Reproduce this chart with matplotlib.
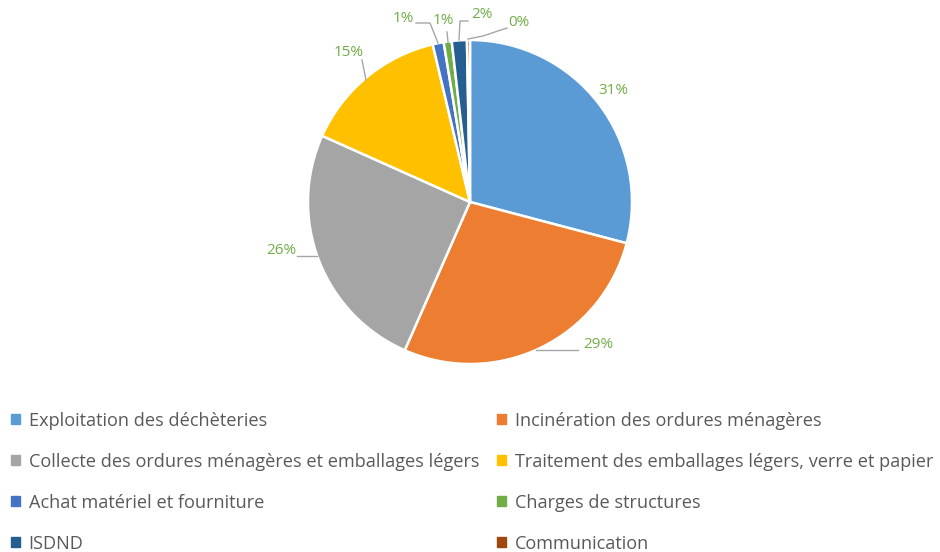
import matplotlib.pyplot as plt
from matplotlib.patches import Patch

plt.rcParams['font.family'] = ['Open Sans', 'DejaVu Sans']

# données
categories = ['Exploitation des déchèteries',
              'Incinération des ordures ménagères',
              'Collecte des ordures ménagères et emballages légers',
              'Traitement des emballages légers, verre et papier',
              'Achat matériel et fourniture',
              'Charges de structures',
              'ISDND',
              'Communication']
valeurs = [29.1, 27.5, 25.1, 14.6, 1.1, 0.8, 1.5, 0.3]
etiquettes = ['31%', '29%', '26%', '15%', '1%', '1%', '2%', '0%']
couleurs = ['#5B9BD5', '#ED7D31', '#A5A5A5', '#FFC000',
            '#4472C4', '#70AD47', '#255E91', '#9E480E']

fig = plt.figure(figsize=(9.4, 5.52), dpi=100)
ax = fig.add_axes([0, 0, 1, 1])

cx, cy, r = 470, 350, 162
wedges, _ = ax.pie(valeurs, colors=couleurs, startangle=90, counterclock=False,
                   center=(cx, cy), radius=r, frame=True,
                   wedgeprops=dict(edgecolor='white', linewidth=1.8))
ax.set_xlim(0, 940)
ax.set_ylim(0, 552)
ax.set_aspect('equal')
ax.axis('off')

# position des étiquettes et lignes de rappel (mise en page)
pos_etiq = [(613, 462), (598, 207), (281, 302), (349, 500),
            (403, 534), (443, 532), (482, 538), (519, 530)]
rappels = [None,
           [(536, 202), (578, 202)],
           [(297, 296), (317, 296)],
           [(362, 492), (366, 472)],
           [(416, 529), (430, 529), (438, 509)],
           [(447, 520), (448, 510)],
           [(468, 531), (460, 531), (459, 512)],
           [(507, 524), (483, 516), (468, 513)]]

for lab, p, ligne in zip(etiquettes, pos_etiq, rappels):
    if ligne is not None:
        xs, ys = zip(*ligne)
        ax.plot(xs, ys, color='#A6A6A6', lw=1)
    ax.text(p[0], p[1], lab, color='#70AD47', fontsize=11,
            ha='center', va='center')

# légende (remplissage par lignes comme dans l'original)
ordre = [0, 2, 4, 6, 1, 3, 5, 7]
handles = [Patch(color=couleurs[i]) for i in ordre]
labels = [categories[i] for i in ordre]
leg = ax.legend(handles, labels, ncol=2, loc='upper left',
                bbox_to_anchor=(0.004, 0.267), frameon=False,
                fontsize=13.1, handlelength=0.47, handleheight=0.47,
                handletextpad=0.5, labelspacing=1.26, columnspacing=1.0,
                borderaxespad=0)
for t in leg.get_texts():
    t.set_color('#595959')

fig.savefig('out.png', dpi=100)
